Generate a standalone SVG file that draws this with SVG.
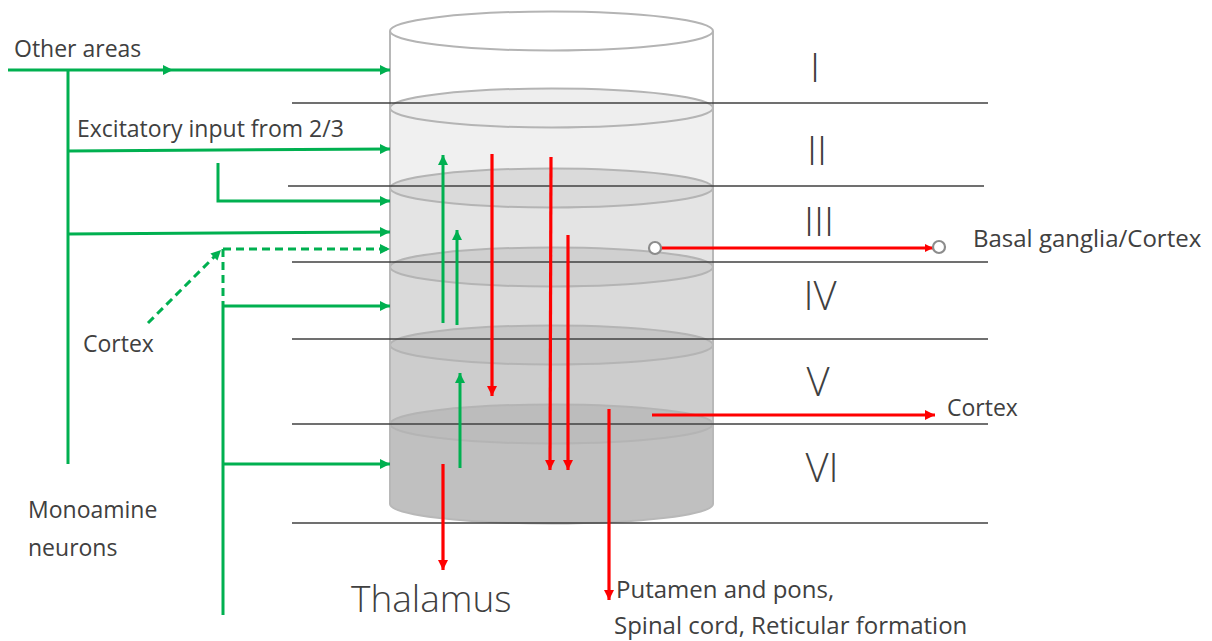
<svg xmlns="http://www.w3.org/2000/svg" width="1212" height="641" viewBox="0 0 1212 641">
<style>
.t{font-family:"Open Sans","Liberation Sans",sans-serif;fill:#404040;font-size:23px}
.tl{font-family:"Open Sans","Liberation Sans",sans-serif;fill:#404040;font-size:24px}
.num{font-family:"Open Sans","Liberation Sans",sans-serif;fill:#404040;font-size:40px;font-weight:300;text-anchor:middle}
.big{font-family:"Open Sans","Liberation Sans",sans-serif;fill:#404040;font-size:37px;font-weight:300}
.g{stroke:#00b050;stroke-width:3;fill:none}
.gd{stroke:#00b050;stroke-width:3;fill:none;stroke-dasharray:8 5}
.r{stroke:#ff0000;stroke-width:3.2;fill:none}
.ln{stroke:#404040;stroke-width:1.3}
.face{stroke:#b4b4b4;stroke-width:2}
</style>
<defs>
<marker id="ag" markerUnits="userSpaceOnUse" markerWidth="10" markerHeight="10" refX="10" refY="5" orient="auto"><path d="M0,0 L10,5 L0,10 z" fill="#00b050"/></marker>
<marker id="ar" markerUnits="userSpaceOnUse" markerWidth="10" markerHeight="10" refX="10" refY="5" orient="auto"><path d="M0,0 L10,5 L0,10 z" fill="#ff0000"/></marker>
<marker id="ars" markerUnits="userSpaceOnUse" markerWidth="8" markerHeight="8" refX="8" refY="4" orient="auto"><path d="M0,0 L8,4 L0,8 z" fill="#ff0000"/></marker>
</defs>

<g id="cylinder">
  <rect x="390" y="31" width="323" height="77" fill="#ffffff"/>
  <rect x="390" y="108" width="323" height="80" fill="#f0f0f0"/>
  <rect x="390" y="188" width="323" height="79" fill="#e4e4e4"/>
  <rect x="390" y="267" width="323" height="78" fill="#dadada"/>
  <rect x="390" y="345" width="323" height="79" fill="#cdcdcd"/>
  <rect x="390" y="424" width="323" height="80" fill="#c0c0c0"/>
  <path d="M390,504 A161.5,19.5 0 0 0 713,504 Z" fill="#c0c0c0"/>
  <ellipse cx="551.5" cy="108" rx="161.5" ry="19.5" fill="#eeeeee" class="face"/>
  <ellipse cx="551.5" cy="188" rx="161.5" ry="19.5" fill="#dadada" class="face"/>
  <ellipse cx="551.5" cy="267" rx="161.5" ry="19.5" fill="#d0d0d0" class="face"/>
  <ellipse cx="551.5" cy="345" rx="161.5" ry="19.5" fill="#c6c6c6" class="face"/>
  <ellipse cx="551.5" cy="424" rx="161.5" ry="19.5" fill="#bcbcbc" class="face"/>
  <path d="M390,31 L390,504 A161.5,19.5 0 0 0 713,504 L713,31" fill="none" stroke="#b8b8b8" stroke-width="2"/>
  <ellipse cx="551.5" cy="31" rx="161.5" ry="19.5" fill="#ffffff" stroke="#b4b4b4" stroke-width="2"/>
</g>

<g id="layer-lines">
  <line class="ln" x1="292" y1="103" x2="988" y2="103"/>
  <line class="ln" x1="288" y1="186" x2="984" y2="186"/>
  <line class="ln" x1="292" y1="262" x2="988" y2="262"/>
  <line class="ln" x1="292" y1="339" x2="988" y2="339"/>
  <line class="ln" x1="292" y1="424" x2="988" y2="424"/>
  <line class="ln" x1="292" y1="523" x2="988" y2="523"/>
</g>

<g id="connectors">
  <path class="g" d="M8,70 L173,70 L390,70" marker-mid="url(#ag)" marker-end="url(#ag)"/>
  <path class="g" d="M68,70 L68,464"/>
  <path class="g" d="M68,151 L390,149" marker-end="url(#ag)"/>
  <path class="g" d="M218,163 L218,201 L390,201" marker-end="url(#ag)"/>
  <path class="g" d="M68,234 L390,232" marker-end="url(#ag)"/>
  <path class="gd" d="M148,323 L221,250" marker-end="url(#ag)"/>
  <path class="gd" d="M223,249 L390,249" marker-end="url(#ag)"/>
  <path class="gd" d="M223,249 L223,306"/>
  <path class="g" d="M223,306 L223,615"/>
  <path class="g" d="M223,306 L390,306" marker-end="url(#ag)"/>
  <path class="g" d="M223,464 L390,464" marker-end="url(#ag)"/>
  <path class="g" d="M443,323 L443,155" marker-end="url(#ag)"/>
  <path class="g" d="M457,325 L457,230" marker-end="url(#ag)"/>
  <path class="g" d="M460,468 L460,373" marker-end="url(#ag)"/>

  <path class="r" d="M492,154 L492,396" marker-end="url(#ar)"/>
  <path class="r" d="M551,157 L550,470" marker-end="url(#ar)"/>
  <path class="r" d="M568,235 L568,470" marker-end="url(#ar)"/>
  <path class="r" d="M443,464 L443,570" marker-end="url(#ar)"/>
  <path class="r" d="M609,409 L609,600" marker-end="url(#ar)"/>
  <path class="r" d="M652,415 L935,415" marker-end="url(#ar)"/>
  <path class="r" d="M661,248 L933,248" marker-end="url(#ars)"/>
  <circle cx="655" cy="248" r="6" fill="#ffffff" stroke="#8c8c8c" stroke-width="2.2"/>
  <circle cx="939" cy="247" r="6" fill="#ffffff" stroke="#8c8c8c" stroke-width="2.2"/>
</g>

<g id="labels">
  <text class="num" x="815" y="82">I</text>
  <text class="num" x="817" y="165">II</text>
  <text class="num" x="819" y="236">III</text>
  <text class="num" x="820" y="310">IV</text>
  <text class="num" x="818" y="396">V</text>
  <text class="num" x="822" y="482">VI</text>
  <text class="t" x="14" y="57">Other areas</text>
  <text class="t" x="77" y="137">Excitatory input from 2/3</text>
  <text class="t" x="83" y="352">Cortex</text>
  <text class="t" x="28" y="518">Monoamine</text>
  <text class="t" x="28" y="556">neurons</text>
  <text class="tl" x="973" y="247">Basal ganglia/Cortex</text>
  <text class="t" x="947" y="416">Cortex</text>
  <text class="tl" x="616" y="598">Putamen and pons,</text>
  <text class="tl" x="614" y="634">Spinal cord, Reticular formation</text>
  <text class="big" x="351" y="612">Thalamus</text>
</g>
</svg>
